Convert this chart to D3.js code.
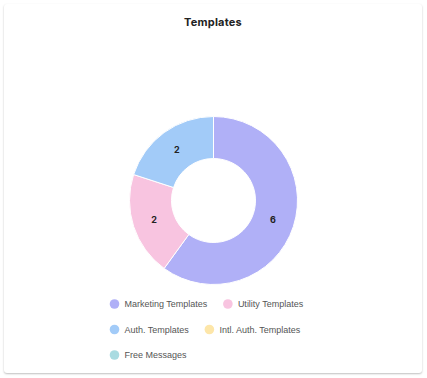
<!DOCTYPE html>
<html lang="en">
<head>
  <meta charset="UTF-8">
  <title>Templates</title>
  <script src="https://d3js.org/d3.v7.min.js"></script>
  <style>
    body {
      margin: 0;
      background: linear-gradient(90deg, #f3f7f9, #efeefc);
    }
    #card {
      position: absolute;
      left: 4px;
      top: 4px;
      width: 418px;
      height: 369px;
      background: #fff;
      border-radius: 3px;
      box-shadow: 0 1px 2px rgba(0, 0, 0, 0.25);
    }
  </style>
</head>
<body>
<div id="card"></div>
<svg id="chart" width="427" height="378" style="position:absolute;left:0;top:0"></svg>

<script>
const categories = ["Marketing Templates", "Utility Templates", "Auth. Templates", "Intl. Auth. Templates", "Free Messages"];
const values = [6, 2, 2, 0, 0];
const colors = ["#b0b0f7", "#f8c4e0", "#a2cbf8", "#fde6a9", "#a9dbe1"];

const svg = d3.select("#chart");
const cx = 213.5, cy = 200.5;
const outerR = 84, innerR = 42;

svg.append("text")
  .attr("x", 213)
  .attr("y", 26)
  .attr("text-anchor", "middle")
  .style("font-family", "Inter, 'Open Sans', sans-serif")
  .style("font-weight", "700")
  .style("font-size", "11px")
  .style("letter-spacing", "0.2px")
  .style("fill", "#222")
  .text("Templates");

const data = categories.map((c, i) => ({ name: c, value: values[i], color: colors[i] }));

const pie = d3.pie().value(d => d.value).sort(null);
const arc = d3.arc().innerRadius(innerR).outerRadius(outerR);
const labelArc = d3.arc().innerRadius(62.5).outerRadius(62.5);

const g = svg.append("g").attr("transform", `translate(${cx},${cy})`);
const arcs = pie(data).filter(d => d.data.value > 0);

g.selectAll("path")
  .data(arcs)
  .join("path")
  .attr("d", arc)
  .attr("fill", d => d.data.color)
  .attr("stroke", "#fff")
  .attr("stroke-width", 1);

g.selectAll("text")
  .data(arcs)
  .join("text")
  .attr("transform", d => `translate(${labelArc.centroid(d)})`)
  .attr("text-anchor", "middle")
  .attr("dy", "0.35em")
  .style("font-family", "Inter, 'Open Sans', sans-serif")
  .style("font-weight", "700")
  .style("font-size", "9px")
  .style("fill", "#222")
  .text(d => d.data.value);

// legend: left aligned rows that wrap
const legend = svg.append("g");
const legendX = 110, legendY = 304, rowH = 25.5, maxW = 212, gap = 16;
let lx = 0, ly = 0;
const tmp = svg.append("text").style("font-family", "'Liberation Sans', Arial, sans-serif").style("font-size", "9px");
data.forEach(d => {
  tmp.text(d.name);
  const w = 14.5 + tmp.node().getComputedTextLength();
  if (lx > 0 && lx + w > maxW) { lx = 0; ly += rowH; }
  const item = legend.append("g").attr("transform", `translate(${legendX + lx},${legendY + ly})`);
  item.append("circle").attr("cx", 4.5).attr("cy", 0).attr("r", 4.8).attr("fill", d.color);
  item.append("text")
    .attr("x", 14.5)
    .attr("dy", "0.35em")
    .style("font-family", "'Liberation Sans', Arial, sans-serif")
    .style("font-size", "9px")
    .style("fill", "#555")
    .text(d.name);
  lx += w + gap;
});
tmp.remove();
</script>
</body>
</html>
